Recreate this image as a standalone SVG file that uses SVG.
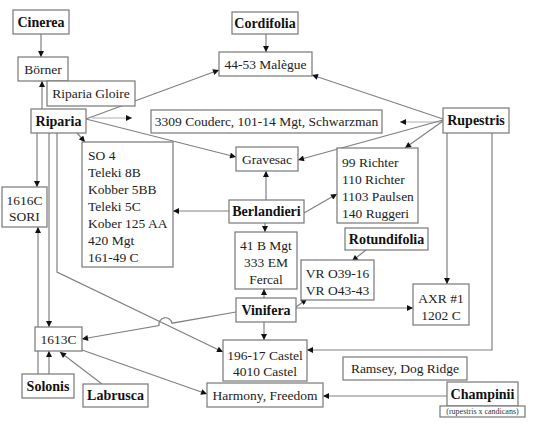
<svg xmlns="http://www.w3.org/2000/svg" width="533" height="426" viewBox="0 0 533 426">
<defs>
<marker id="ah" viewBox="0 0 10 10" refX="10" refY="5" markerWidth="7" markerHeight="6" markerUnits="userSpaceOnUse" orient="auto">
<path d="M0,0 L10,5 L0,10 z" fill="#111"/>
</marker>
<style>
text{font-family:'Liberation Serif',Tinos,'Times New Roman',Times,'DejaVu Serif',serif}
.box{fill:#fff;stroke:#777;stroke-width:1.2}
.t{font-size:13.5px;fill:#222}
.b{font-size:14px;font-weight:bold;fill:#111}
.s{font-size:8px;fill:#333}
.m{text-anchor:middle}
.c{fill:none;stroke:#808080;stroke-width:1.2;marker-end:url(#ah)}
.lt{fill:none;stroke:#b0b0b0;stroke-width:1.2;marker-end:url(#ah)}
</style>
</defs>
<rect width="533" height="426" fill="#fff"/>
<g id="connectors">
<path class="c" d="M41,34 V57"/>
<path class="c" d="M42,109 V81"/>
<path class="c" d="M86,119 L219,70"/>
<path class="lt" d="M92,118 H132"/>
<path class="c" d="M86,119 L236,157"/>
<path class="c" d="M77,133 L85,142"/>
<path class="c" d="M37,133 V187"/>
<path class="c" d="M49,133 V327"/>
<path class="c" d="M57,133 V272 L223,352"/>
<path class="c" d="M266,34 V52"/>
<path class="c" d="M443,119 L312,75"/>
<path class="lt" d="M443,122 H400"/>
<path class="c" d="M443,120 L298,160"/>
<path class="c" d="M443,121 L405,148"/>
<path class="c" d="M447,133 V284"/>
<path class="c" d="M492,133 V350 H307"/>
<path class="c" d="M266,200 V171"/>
<path class="c" d="M304,213 L337,194"/>
<path class="c" d="M229,211 H173"/>
<path class="c" d="M265,223 V232"/>
<path class="c" d="M366,250 L352,261"/>
<path class="c" d="M264,298 V289"/>
<path class="c" d="M296,307 L307,299"/>
<path class="c" d="M296,308 H413"/>
<path class="c" d="M264,322 V340"/>
<path class="c" d="M236,312 L172,323.2 A6.6,6.6 0 0 0 159,325.5 L82,339"/>
<path class="c" d="M38,374 V227"/>
<path class="c" d="M49,374 V351"/>
<path class="c" d="M102,384 L60,352"/>
<path class="c" d="M82,350 L207,394"/>
<path class="c" d="M447,396 H323"/>
</g>
<g id="cinerea"><rect class="box" x="13" y="10" width="56" height="24"/><text class="b m" x="41" y="27">Cinerea</text></g>
<g id="borner"><rect class="box" x="18" y="57" width="50" height="24"/><text class="t m" x="43" y="74">Börner</text></g>
<g id="riparia-gloire"><rect class="box" x="47" y="81" width="88" height="25"/><text class="t m" x="91" y="98">Riparia Gloire</text></g>
<g id="riparia"><rect class="box" x="31" y="109" width="55" height="24"/><text class="b m" x="58.5" y="126">Riparia</text></g>
<g id="cordifolia"><rect class="box" x="232" y="12" width="66" height="22"/><text class="b m" x="265" y="28">Cordifolia</text></g>
<g id="malegue"><rect class="box" x="219" y="52" width="93" height="24"/><text class="t m" x="265.5" y="69">44-53 Malègue</text></g>
<g id="couderc"><rect class="box" x="151" y="110" width="231" height="23"/><text class="t m" x="266.5" y="126">3309 Couderc, 101-14 Mgt, Schwarzman</text></g>
<g id="rupestris"><rect class="box" x="443" y="108" width="66" height="25"/><text class="b m" x="476" y="125">Rupestris</text></g>
<g id="gravesac"><rect class="box" x="236" y="147" width="62" height="24"/><text class="t m" x="267" y="164">Gravesac</text></g>
<g id="richter"><rect class="box" x="337" y="148" width="81" height="75"/>
<text class="t" x="342" y="167">99 Richter</text><text class="t" x="342" y="184">110 Richter</text><text class="t" x="342" y="201">1103 Paulsen</text><text class="t" x="342" y="218">140 Ruggeri</text></g>
<g id="so4"><rect class="box" x="82" y="142" width="91" height="125"/>
<text class="t" x="88" y="160">SO 4</text><text class="t" x="88" y="177">Teleki 8B</text><text class="t" x="88" y="194">Kobber 5BB</text><text class="t" x="88" y="211">Teleki 5C</text><text class="t" x="88" y="228">Kober 125 AA</text><text class="t" x="88" y="245">420 Mgt</text><text class="t" x="88" y="262">161-49 C</text></g>
<g id="sori"><rect class="box" x="2" y="187" width="45" height="40"/><text class="t m" x="24.5" y="205">1616C</text><text class="t m" x="24.5" y="221">SORI</text></g>
<g id="berlandieri"><rect class="box" x="229" y="200" width="75" height="23"/><text class="b m" x="266.5" y="216">Berlandieri</text></g>
<g id="mgt41b"><rect class="box" x="235" y="232" width="62" height="57"/><text class="t m" x="266" y="250">41 B Mgt</text><text class="t m" x="266" y="267">333 EM</text><text class="t m" x="266" y="284">Fercal</text></g>
<g id="rotundifolia"><rect class="box" x="345" y="228" width="83" height="22"/><text class="b m" x="386.5" y="244">Rotundifolia</text></g>
<g id="vr"><rect class="box" x="301" y="260" width="73" height="40"/><text class="t m" x="337.5" y="278">VR O39-16</text><text class="t m" x="337.5" y="295">VR O43-43</text></g>
<g id="vinifera"><rect class="box" x="236" y="298" width="60" height="24"/><text class="b m" x="266" y="315">Vinifera</text></g>
<g id="axr"><rect class="box" x="413" y="284" width="56" height="41"/><text class="t m" x="441" y="303">AXR #1</text><text class="t m" x="441" y="320">1202 C</text></g>
<g id="castel"><rect class="box" x="223" y="340" width="84" height="41"/><text class="t m" x="265" y="360">196-17 Castel</text><text class="t m" x="265" y="376">4010 Castel</text></g>
<g id="harmony"><rect class="box" x="207" y="383" width="116" height="24"/><text class="t m" x="265" y="400">Harmony, Freedom</text></g>
<g id="ramsey"><rect class="box" x="343" y="357" width="124" height="23"/><text class="t m" x="405" y="373">Ramsey, Dog Ridge</text></g>
<g id="champinii"><rect class="box" x="447" y="382" width="71" height="24"/><text class="b m" x="482.5" y="399">Champinii</text></g>
<g id="champinii-note"><rect class="box" x="440" y="406" width="85" height="11"/><text class="s m" x="482.5" y="414">(rupestris x candicans)</text></g>
<g id="c1613"><rect class="box" x="35" y="327" width="47" height="24"/><text class="t m" x="58.5" y="344">1613C</text></g>
<g id="solonis"><rect class="box" x="22" y="374" width="52" height="24"/><text class="b m" x="48" y="391">Solonis</text></g>
<g id="labrusca"><rect class="box" x="83" y="384" width="65" height="23"/><text class="b m" x="115.5" y="400">Labrusca</text></g>
</svg>
